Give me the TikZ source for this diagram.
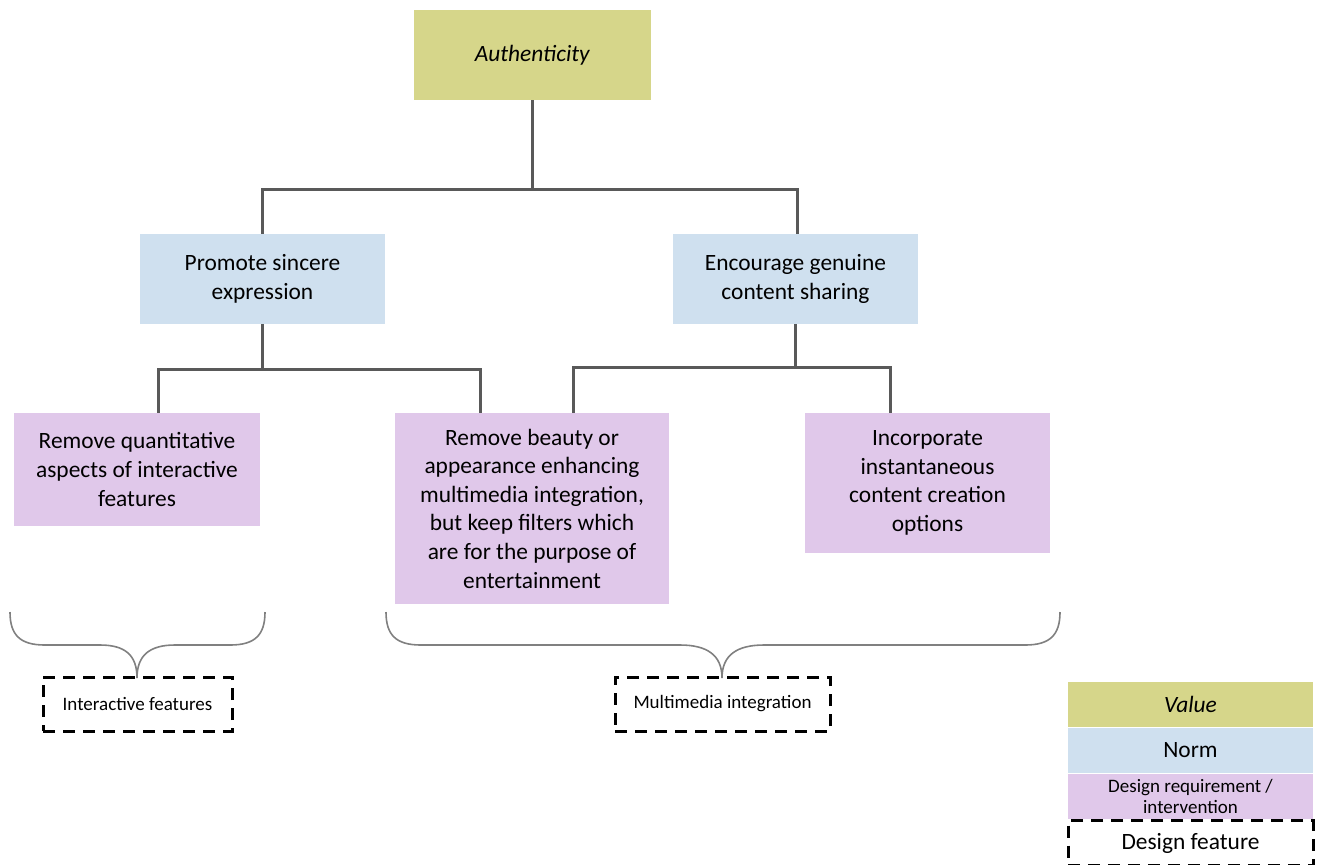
\documentclass[tikz,border=0pt]{standalone}
\usepackage{fontspec}
\setmainfont{Carlito}
\usetikzlibrary{positioning,calc}
\definecolor{valuecol}{HTML}{D6D68A}
\definecolor{normcol}{HTML}{CFE0EF}
\definecolor{reqcol}{HTML}{E0C8EA}
\definecolor{linecol}{HTML}{595959}
\definecolor{bracecol}{HTML}{808080}
\tikzset{
  box/.style={inner sep=2pt,align=center,font=\fontsize{11.7}{14.3}\selectfont},
  valuebox/.style={box,fill=valuecol},
  normbox/.style={box,fill=normcol},
  reqbox/.style={box,fill=reqcol},
  featbox/.style={draw=black,line width=1.5pt,dash pattern=on 6pt off 4pt,align=center,font=\fontsize{9.5}{11}\selectfont},
  conn/.style={draw=linecol,line width=1.5pt},
  brace/.style={draw=bracecol,line width=0.8pt}
}
\begin{document}
\begin{tikzpicture}[x=0.5pt,y=-0.5pt]
\useasboundingbox (0,0) rectangle (1317,864);
% value
\node[valuebox,minimum width=118.5pt,minimum height=45pt] (auth) at (532.5,55) {\textit{Authenticity}};
% norms
\node[normbox,minimum width=122.5pt,minimum height=45pt] (pse) at (262.5,279) {Promote sincere\\expression};
\node[normbox,minimum width=122.5pt,minimum height=45pt] (egcs) at (795.5,279) {Encourage genuine\\content sharing};
% design requirements
\node[reqbox,minimum width=123pt,minimum height=56.5pt] (rqa) at (137,469.5) {Remove quantitative\\aspects of interactive\\features};
\node[reqbox,minimum width=137pt,minimum height=95.5pt] (rbe) at (532,508.5) {Remove beauty or\\appearance enhancing\\multimedia integration,\\but keep filters which\\are for the purpose of\\entertainment};
\node[reqbox,minimum width=122.5pt,minimum height=70pt] (ico) at (927.5,483) {Incorporate\\instantaneous\\content creation\\options};
% design features
\node[featbox,minimum width=94.5pt,minimum height=27pt] (intf) at (137.5,704) {Interactive features};
\node[featbox,minimum width=107.5pt,minimum height=27pt] (mmi) at (722.5,704) {Multimedia integration};
% connectors
\coordinate (j1) at (532.5,189);
\coordinate (j2) at (262.5,369);
\coordinate (j3) at (795.5,367);
\draw[conn] (auth.south) -- (auth.south |- j1);
\draw[conn] (pse.north) |- ([xshift=0.75pt]egcs.north |- j1) -- ([xshift=0.75pt]egcs.north);
\draw[conn] (pse.south) -- (j2);
\draw[conn] ([xshift=10.5pt]rqa.north) |- ([xshift=-26pt]rbe.north |- j2) -- ([xshift=-26pt]rbe.north);
\draw[conn] (egcs.south) -- (j3);
\draw[conn] ([xshift=20.5pt]rbe.north) |- ([xshift=-18.75pt]ico.north |- j3) -- ([xshift=-18.75pt]ico.north);
% braces
\draw[brace] (10,612) .. controls (10,635) and (20,645) .. (45,645) -- (100,645)
  .. controls (125,645) and (137,655) .. (137,678)
  .. controls (137,655) and (150,645) .. (175,645) -- (230,645)
  .. controls (255,645) and (265,635) .. (265,612);
\draw[brace] (386,612) .. controls (386,635) and (396,645) .. (421,645) -- (680,645)
  .. controls (707,645) and (722,655) .. (722,678)
  .. controls (722,655) and (737,645) .. (764,645) -- (1025,645)
  .. controls (1050,645) and (1060,635) .. (1060,612);
% legend
\node[valuebox,minimum width=122.5pt,minimum height=22.5pt,inner sep=0pt] (lval) at (1190.5,704.5) {\textit{Value}};
\node[normbox,minimum width=122.5pt,minimum height=22.5pt,inner sep=0pt,below=0pt of lval] (lnorm) {Norm};
\node[reqbox,minimum width=122.5pt,minimum height=22.5pt,inner sep=0pt,below=0pt of lnorm,font=\fontsize{9.5}{10.5}\selectfont] (lreq) {Design requirement /\\intervention};
\node[featbox,minimum width=122.5pt,minimum height=22.5pt,inner sep=0pt,below=0pt of lreq,font=\fontsize{11.7}{14.3}\selectfont] (lfeat) {Design feature};
\end{tikzpicture}
\end{document}
